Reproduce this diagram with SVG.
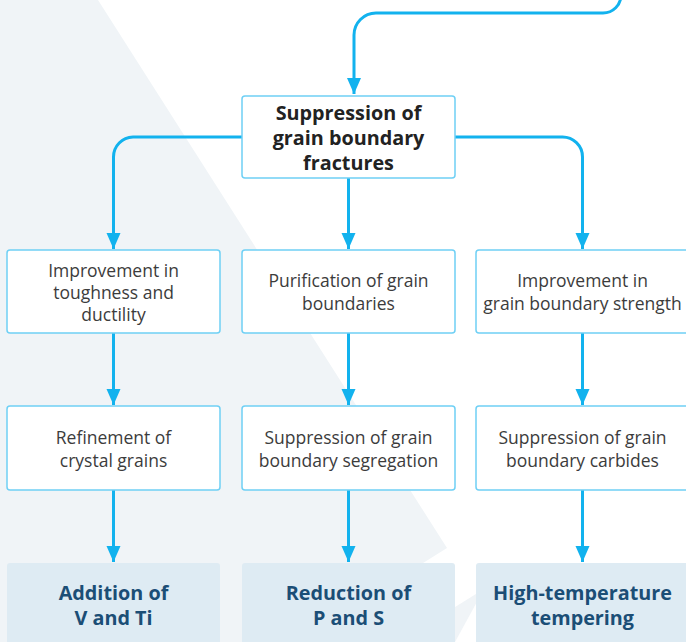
<svg xmlns="http://www.w3.org/2000/svg" width="686" height="642" viewBox="0 0 686 642">
<style>
.conn{fill:none;stroke:#12b2ee;stroke-width:3}
.box{fill:#ffffff;stroke:#6fd0f5;stroke-width:1.5}
.res{fill:#deebf3}
.t{font-family:"Open Sans","Noto Sans","Liberation Sans",sans-serif;font-size:17.5px;fill:#3c3c3c;text-anchor:middle}
.tb{font-family:"Open Sans","Noto Sans","Liberation Sans",sans-serif;font-size:19.8px;font-weight:bold;fill:#222222;text-anchor:middle}
.tr{font-family:"Open Sans","Noto Sans","Liberation Sans",sans-serif;font-size:19.8px;font-weight:bold;fill:#1b4e76;text-anchor:middle}
</style>
<defs>
<marker id="ah" markerUnits="userSpaceOnUse" markerWidth="14" markerHeight="18" viewBox="0 0 14 18" refX="16" refY="7" orient="auto">
<path d="M0,0 L16,7 L0,14 Z" fill="#12b2ee"/>
</marker>
</defs>
<rect x="0" y="0" width="686" height="642" fill="#ffffff"/>
<g id="background">
<polygon points="0,0 98,0 447,548 297,642 0,642" fill="#f0f4f7"/>
<polygon points="484,589 399,642 455,642" fill="#f0f4f7"/>
</g>
<g id="connectors">
<path class="conn" d="M621,-8 L621,-5 A18,18 0 0 1 603,13 L376,13 A22,22 0 0 0 354,35 L354,94" marker-end="url(#ah)"/>
<path class="conn" d="M242,137 L133,137 A20,20 0 0 0 113.5,157 L113.5,249" marker-end="url(#ah)"/>
<path class="conn" d="M348.5,178 L348.5,249" marker-end="url(#ah)"/>
<path class="conn" d="M455,137 L562,137 A20,20 0 0 1 582.5,157 L582.5,249" marker-end="url(#ah)"/>
<path class="conn" d="M113.5,333 L113.5,405" marker-end="url(#ah)"/>
<path class="conn" d="M348.5,333 L348.5,405" marker-end="url(#ah)"/>
<path class="conn" d="M582.5,333 L582.5,405" marker-end="url(#ah)"/>
<path class="conn" d="M113.5,490 L113.5,562" marker-end="url(#ah)"/>
<path class="conn" d="M348.5,490 L348.5,562" marker-end="url(#ah)"/>
<path class="conn" d="M582.5,490 L582.5,562" marker-end="url(#ah)"/>
</g>
<g id="n_top">
<rect class="box" x="242" y="96" width="213" height="82" rx="3"/>
<text class="tb" x="348.5" y="120">Suppression of</text>
<text class="tb" x="348.5" y="145">grain boundary</text>
<text class="tb" x="348.5" y="170">fractures</text>
</g>
<g id="n_toughness">
<rect class="box" x="7" y="250" width="213" height="83" rx="3"/>
<text class="t" x="113.5" y="277">Improvement in</text>
<text class="t" x="113.5" y="299">toughness and</text>
<text class="t" x="113.5" y="321">ductility</text>
</g>
<g id="n_purification">
<rect class="box" x="242" y="250" width="213" height="83" rx="3"/>
<text class="t" x="348.5" y="287">Purification of grain</text>
<text class="t" x="348.5" y="310">boundaries</text>
</g>
<g id="n_strength">
<rect class="box" x="476" y="250" width="213" height="83" rx="3"/>
<text class="t" x="582.5" y="287">Improvement in</text>
<text class="t" x="582.5" y="310">grain boundary strength</text>
</g>
<g id="n_refinement">
<rect class="box" x="7" y="406" width="213" height="84" rx="3"/>
<text class="t" x="113.5" y="444">Refinement of</text>
<text class="t" x="113.5" y="467">crystal grains</text>
</g>
<g id="n_segregation">
<rect class="box" x="242" y="406" width="213" height="84" rx="3"/>
<text class="t" x="348.5" y="444">Suppression of grain</text>
<text class="t" x="348.5" y="467">boundary segregation</text>
</g>
<g id="n_carbides">
<rect class="box" x="476" y="406" width="213" height="84" rx="3"/>
<text class="t" x="582.5" y="444">Suppression of grain</text>
<text class="t" x="582.5" y="467">boundary carbides</text>
</g>
<g id="n_vti">
<rect class="res" x="7" y="563" width="213" height="90" rx="3"/>
<text class="tr" x="113.5" y="600">Addition of</text>
<text class="tr" x="113.5" y="625">V and Ti</text>
</g>
<g id="n_ps">
<rect class="res" x="242" y="563" width="213" height="90" rx="3"/>
<text class="tr" x="348.5" y="600">Reduction of</text>
<text class="tr" x="348.5" y="625">P and S</text>
</g>
<g id="n_tempering">
<rect class="res" x="476" y="563" width="213" height="90" rx="3"/>
<text class="tr" x="582.5" y="600">High-temperature</text>
<text class="tr" x="582.5" y="625">tempering</text>
</g>
</svg>
